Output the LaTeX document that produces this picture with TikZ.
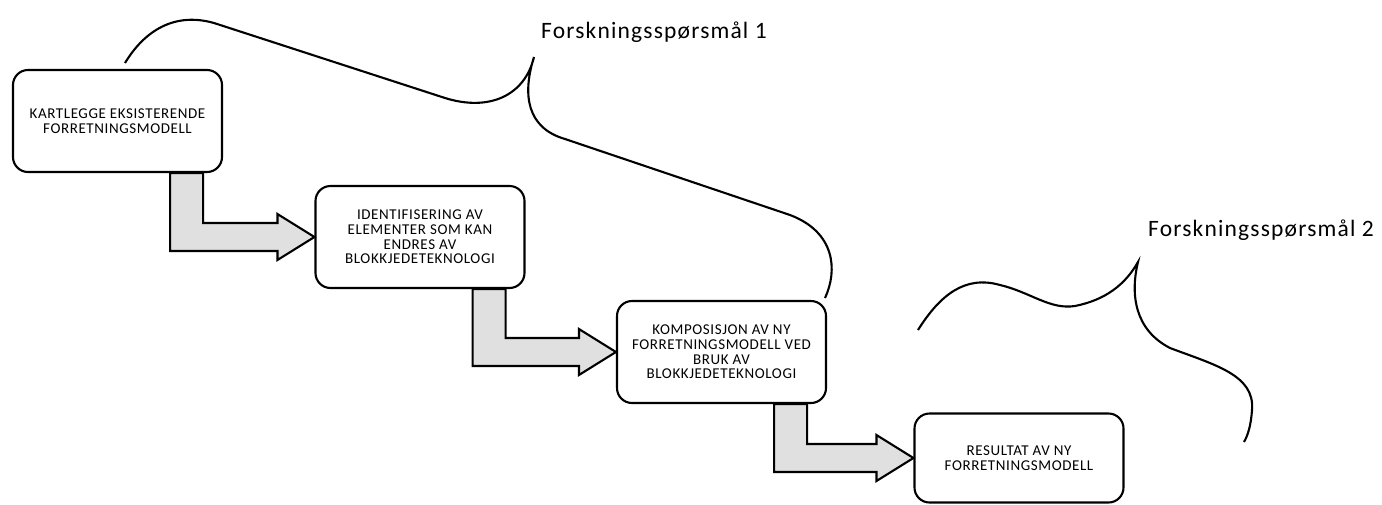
\documentclass[tikz,border=0pt]{standalone}
\usepackage{fontspec}
\setmainfont{Carlito}
\newfontfamily\boksfont[LetterSpace=4]{Carlito}
\newfontfamily\spmfont[LetterSpace=5]{Carlito}
\usepackage{tikz}
\usetikzlibrary{%
  calc,% wg. let
  positioning%
}

\newcommand\blokkpil[2]{%
  \draw [pil] let \p1=(#1.south east), \p2=(#2.west) in
    (\x1-53pt,\y1) -- (\x1-20pt,\y1) -- (\x1-20pt,\y2+14pt)
    -- (\x2-37pt,\y2+14pt) -- (\x2-37pt,\y2+23pt) -- (\p2)
    -- (\x2-37pt,\y2-23pt) -- (\x2-37pt,\y2-14pt)
    -- (\x1-53pt,\y2-14pt) -- cycle;%
}

\begin{document}
\begin{tikzpicture}[x=1pt,y=1pt,
  boks/.style={draw, line width=2.1pt, rounded corners=15pt, fill=white,
    minimum width=209pt, minimum height=102pt, align=center,
    font=\boksfont\fontsize{15}{14.7}\selectfont},
  pil/.style={draw, line width=2.1pt, fill=black!12, line join=miter},
  klamme/.style={line width=2.1pt},
  spm/.style={anchor=west, inner sep=0pt, font=\spmfont\fontsize{23.5}{26}\selectfont}]
\useasboundingbox (0,0) rectangle (1382,-504);
\node [boks] (k1) at (117.5,-121) {KARTLEGGE EKSISTERENDE\\FORRETNINGSMODELL};
\node [boks] (k2) at (420,-237) {IDENTIFISERING AV\\ELEMENTER SOM KAN\\ENDRES AV\\BLOKKJEDETEKNOLOGI};
\node [boks] (k3) at (721.5,-352) {KOMPOSISJON AV NY\\FORRETNINGSMODELL VED\\BRUK AV\\BLOKKJEDETEKNOLOGI};
\node [boks, minimum height=89pt] (k4) at (1019,-458) {RESULTAT AV NY\\FORRETNINGSMODELL};
\blokkpil{k1}{k2}
\blokkpil{k2}{k3}
\blokkpil{k3}{k4}
\node [spm] (spm1) at (541,-32) {Forskningsspørsmål 1};
\node [spm] (spm2) at (1148,-230) {Forskningsspørsmål 2};
% klammer
\coordinate (b1a) at (125,-63);
\coordinate (b1t) at (534,-57);
\coordinate (b1b) at (825,-298);
\draw [klamme] (b1a) .. controls (145,-30) and (175,-12) .. (214,-23) -- (445,-98)
  .. controls (490,-112) and (525,-95) .. (b1t)
  .. controls (522,-95) and (527,-128) .. (565,-139) -- (790,-215)
  .. controls (835,-232) and (838,-270) .. (b1b);
\coordinate (b2a) at (918,-330);
\coordinate (b2t) at (1138,-262);
\coordinate (b2b) at (1244,-442);
\draw [klamme] (b2a) .. controls (940,-295) and (965,-275) .. (1000,-285)
  .. controls (1030,-292) and (1050,-310) .. (1075,-306)
  .. controls (1105,-300) and (1125,-285) .. (b2t)
  .. controls (1130,-295) and (1135,-330) .. (1170,-348)
  .. controls (1215,-365) and (1255,-375) .. (1252,-410)
  .. controls (1251,-425) and (1248,-435) .. (b2b);
\end{tikzpicture}
\end{document}
